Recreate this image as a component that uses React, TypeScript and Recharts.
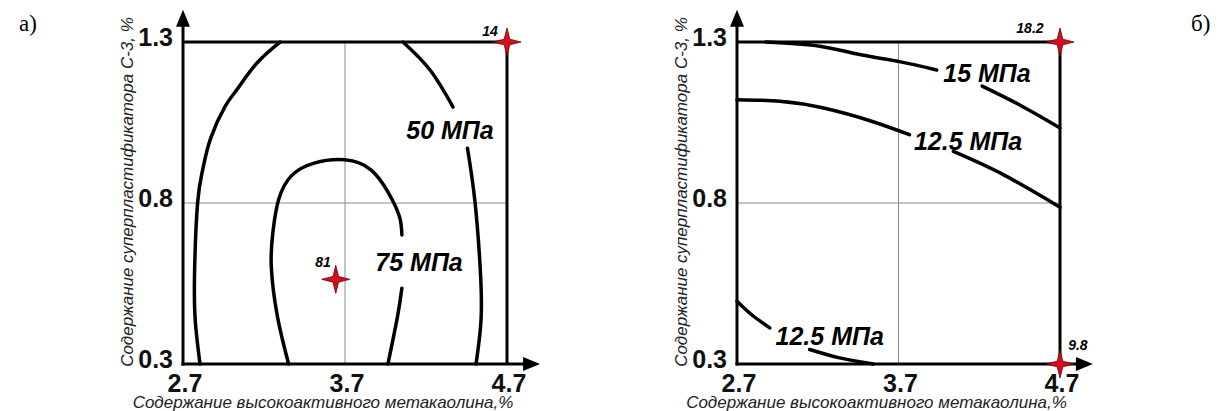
import React from "react";
import {
  ComposedChart,
  Line,
  Scatter,
  XAxis,
  YAxis,
  ReferenceLine,
  ReferenceDot,
} from "recharts";

const X_TICKS = [2.7, 3.7, 4.7];
const Y_TICKS = [0.3, 0.8, 1.3];
const X_TITLE = "Содержание высокоактивного метакаолина,%";
const Y_TITLE = "Содержание суперпластификатора С-3, %";

// panel а) - contour lines (broken where the label sits)
const A_50_LEFT = [
  { x: 3.299, y: 1.3 },
  { x: 3.155, y: 1.234 },
  { x: 3.031, y: 1.151 },
  { x: 2.96, y: 1.1 },
  { x: 2.87, y: 1.0 },
  { x: 2.82, y: 0.9 },
  { x: 2.79, y: 0.8 },
  { x: 2.772, y: 0.6 },
  { x: 2.775, y: 0.44 },
  { x: 2.805, y: 0.3 },
];
const A_50_RIGHT_TOP = [
  { x: 4.058, y: 1.3 },
  { x: 4.225, y: 1.213 },
  { x: 4.367, y: 1.098 },
];
const A_50_RIGHT_BOTTOM = [
  { x: 4.456, y: 0.97 },
  { x: 4.501, y: 0.81 },
  { x: 4.534, y: 0.603 },
  { x: 4.54, y: 0.44 },
  { x: 4.509, y: 0.3 },
];
const A_75_MAIN = [
  { x: 3.352, y: 0.3 },
  { x: 3.283, y: 0.447 },
  { x: 3.245, y: 0.603 },
  { x: 3.255, y: 0.71 },
  { x: 3.29, y: 0.81 },
  { x: 3.37, y: 0.885 },
  { x: 3.51, y: 0.924 },
  { x: 3.699, y: 0.934 },
  { x: 3.86, y: 0.903 },
  { x: 3.969, y: 0.831 },
  { x: 4.036, y: 0.758 },
  { x: 4.051, y: 0.701 },
];
const A_75_TAIL = [
  { x: 4.051, y: 0.535 },
  { x: 4.024, y: 0.447 },
  { x: 3.965, y: 0.3 },
];
const A_STARS = [
  { x: 3.643, y: 0.563 },
  { x: 4.7, y: 1.3 },
];
const A_CONTOUR_LABELS = [
  { x: 4.348, y: 1.027, text: "50 МПа" },
  { x: 4.157, y: 0.618, text: "75 МПа" },
];
const A_POINT_LABELS = [
  { x: 3.564, y: 0.618, text: "81" },
  { x: 4.595, y: 1.334, text: "14" },
];

// panel б)
const B_15_LEFT = [
  { x: 2.878, y: 1.3 },
  { x: 3.212, y: 1.287 },
  { x: 3.459, y: 1.261 },
  { x: 3.705, y: 1.239 },
  { x: 3.937, y: 1.213 },
];
const B_15_RIGHT = [
  { x: 4.218, y: 1.163 },
  { x: 4.448, y: 1.105 },
  { x: 4.7, y: 1.033 },
];
const B_125_LEFT = [
  { x: 2.7, y: 1.121 },
  { x: 2.965, y: 1.116 },
  { x: 3.236, y: 1.095 },
  { x: 3.533, y: 1.054 },
  { x: 3.768, y: 1.012 },
];
const B_125_RIGHT = [
  { x: 4.04, y: 0.96 },
  { x: 4.349, y: 0.888 },
  { x: 4.7, y: 0.787 },
];
const B_125_LOW_LEFT = [
  { x: 2.7, y: 0.495 },
  { x: 2.791, y: 0.453 },
  { x: 2.903, y: 0.412 },
];
const B_125_LOW_RIGHT = [
  { x: 3.15, y: 0.345 },
  { x: 3.335, y: 0.319 },
  { x: 3.545, y: 0.3 },
];
const B_STARS = [
  { x: 4.7, y: 1.3 },
  { x: 4.7, y: 0.3 },
];
const B_CONTOUR_LABELS = [
  { x: 4.248, y: 1.204, text: "15 МПа" },
  { x: 4.131, y: 0.992, text: "12.5 МПа" },
  { x: 3.274, y: 0.386, text: "12.5 МПа" },
];
const B_POINT_LABELS = [
  { x: 4.514, y: 1.343, text: "18.2" },
  { x: 4.811, y: 0.359, text: "9.8" },
];

const X_ARROW = 4.904;
const Y_ARROW = 1.4;

const SANS = "'Liberation Sans', Arial, Helvetica, sans-serif";

const renderXTick = (props: any) => {
  const { x, y, payload } = props;
  return (
    <text x={x + 2} y={y + 28} textAnchor="middle" fontFamily={SANS} fontWeight="bold" fontSize={25} fill="#111">
      {payload.value}
    </text>
  );
};

const renderYTick = (props: any) => {
  const { x, y, payload } = props;
  return (
    <text x={x - 10} y={y + 4} textAnchor="end" fontFamily={SANS} fontWeight="bold" fontSize={25} fill="#111">
      {payload.value}
    </text>
  );
};

const renderXTitle = (props: any) => {
  const vb = props.viewBox;
  return (
    <text x={vb.x + vb.width / 2 - 22} y={vb.y + 44} textAnchor="middle" fontFamily={SANS} fontStyle="italic" fontSize={17} fill="#222">
      {X_TITLE}
    </text>
  );
};

const renderYTitle = (props: any) => {
  const vb = props.viewBox;
  const cx = vb.x + 27;
  const cy = vb.y + vb.height / 2 - 11;
  return (
    <text
      x={cx}
      y={cy}
      transform={`rotate(-90 ${cx} ${cy})`}
      textAnchor="middle"
      dominantBaseline="central"
      fontFamily={SANS}
      fontStyle="italic"
      fontSize={17}
      fill="#222"
    >
      {Y_TITLE}
    </text>
  );
};

const Arrow = (props: any) => {
  const { x1, y1, x2, y2 } = props;
  const dx = x2 - x1;
  const dy = y2 - y1;
  const len = Math.hypot(dx, dy) || 1;
  const ux = dx / len;
  const uy = dy / len;
  const head = 17;
  const half = 7;
  const bx = x2 - ux * head;
  const by = y2 - uy * head;
  return (
    <g>
      <line x1={x1} y1={y1} x2={bx} y2={by} stroke="#000" strokeWidth={3} strokeLinecap="square" />
      <polygon
        points={`${x2},${y2} ${bx - uy * half},${by + ux * half} ${bx + uy * half},${by - ux * half}`}
        fill="#000"
      />
    </g>
  );
};

const Star = (props: any) => {
  const { cx, cy } = props;
  const R = 14;
  const r = 4;
  const pts: string[] = [];
  for (let i = 0; i < 8; i++) {
    const a = (Math.PI / 4) * i;
    const rad = i % 2 === 0 ? R : r;
    pts.push(`${cx + rad * Math.cos(a)},${cy + rad * Math.sin(a)}`);
  }
  return <polygon points={pts.join(" ")} fill="#d0101e" stroke="#6a0000" strokeWidth={0.8} />;
};

const bigLabel = (text: string) => (props: any) => (
  <text x={props.cx} y={props.cy} textAnchor="middle" dominantBaseline="central" fontFamily={SANS} fontWeight="bold" fontStyle="italic" fontSize={25} fill="#000">
    {text}
  </text>
);

const smallLabel = (text: string) => (props: any) => (
  <text x={props.cx} y={props.cy} textAnchor="middle" dominantBaseline="central" fontFamily={SANS} fontWeight="bold" fontStyle="italic" fontSize={14} fill="#000">
    {text}
  </text>
);

function ContourPanel({ contours, stars, contourLabels, pointLabels, margin }: any) {
  return (
    <ComposedChart width={600} height={411} margin={margin}>
      <XAxis
        type="number"
        dataKey="x"
        domain={[2.7, 4.7]}
        ticks={X_TICKS}
        interval={0}
        axisLine={false}
        tickLine={false}
        tickSize={0}
        tickMargin={0}
        height={47}
        tick={renderXTick}
        label={renderXTitle}
      />
      <YAxis
        type="number"
        dataKey="y"
        domain={[0.3, 1.3]}
        ticks={Y_TICKS}
        interval={0}
        axisLine={false}
        tickLine={false}
        tickSize={0}
        tickMargin={0}
        width={83}
        tick={renderYTick}
        label={renderYTitle}
      />
      <ReferenceLine x={3.7} stroke="#8a8a8a" strokeWidth={1} />
      <ReferenceLine y={0.8} stroke="#8a8a8a" strokeWidth={1} />
      {contours.map((seg: any, i: number) => (
        <Line
          key={i}
          data={seg}
          dataKey="y"
          type="natural"
          stroke="#000"
          strokeWidth={3.5}
          strokeLinecap="round"
          dot={false}
          activeDot={false}
          isAnimationActive={false}
        />
      ))}
      <ReferenceLine y={1.3} stroke="#000" strokeWidth={3} />
      <ReferenceLine x={4.7} stroke="#000" strokeWidth={3} />
      <ReferenceLine segment={[{ x: 2.7, y: 0.3 }, { x: X_ARROW, y: 0.3 }]} ifOverflow="visible" shape={Arrow} />
      <ReferenceLine segment={[{ x: 2.7, y: 0.3 }, { x: 2.7, y: Y_ARROW }]} ifOverflow="visible" shape={Arrow} />
      <Scatter data={stars} shape={Star} isAnimationActive={false} />
      {contourLabels.map((l: any, i: number) => (
        <ReferenceDot key={"c" + i} x={l.x} y={l.y} r={0} ifOverflow="visible" shape={bigLabel(l.text)} />
      ))}
      {pointLabels.map((l: any, i: number) => (
        <ReferenceDot key={"p" + i} x={l.x} y={l.y} r={0} ifOverflow="visible" shape={smallLabel(l.text)} />
      ))}
    </ComposedChart>
  );
}

export default function App() {
  return (
    <div style={{ position: "absolute", left: 0, top: 0, width: 1227, height: 411, background: "#fff", overflow: "hidden" }}>
      <div style={{ position: "absolute", left: 0, top: 0 }}>
        <ContourPanel
          contours={[A_50_LEFT, A_50_RIGHT_TOP, A_50_RIGHT_BOTTOM, A_75_MAIN, A_75_TAIL]}
          stars={A_STARS}
          contourLabels={A_CONTOUR_LABELS}
          pointLabels={A_POINT_LABELS}
          margin={{ top: 42, right: 93, bottom: 0, left: 100 }}
        />
      </div>
      <div style={{ position: "absolute", left: 600, top: 0 }}>
        <ContourPanel
          contours={[B_15_LEFT, B_15_RIGHT, B_125_LEFT, B_125_RIGHT, B_125_LOW_LEFT, B_125_LOW_RIGHT]}
          stars={B_STARS}
          contourLabels={B_CONTOUR_LABELS}
          pointLabels={B_POINT_LABELS}
          margin={{ top: 42, right: 140, bottom: 0, left: 54 }}
        />
      </div>
      <svg width={1227} height={411} style={{ position: "absolute", left: 0, top: 0, pointerEvents: "none" }}>
        <text x={19} y={31} fontFamily="'Liberation Serif', 'Times New Roman', serif" fontSize={23} fill="#000">а)</text>
        <text x={1191} y={31} fontFamily="'Liberation Serif', 'Times New Roman', serif" fontSize={23} fill="#000">б)</text>
      </svg>
    </div>
  );
}
